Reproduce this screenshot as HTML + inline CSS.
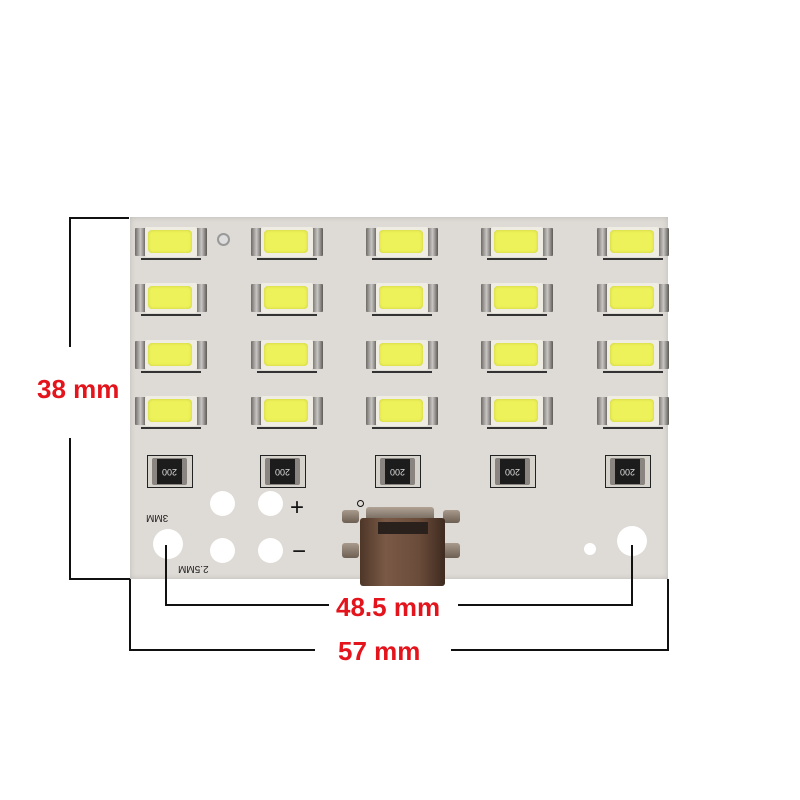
<!DOCTYPE html>
<html><head><meta charset="utf-8"><style>
body{margin:0;width:800px;height:800px;background:#fff;position:relative;overflow:hidden;font-family:"Liberation Sans",sans-serif}
.a{position:absolute}
.ln{position:absolute;background:#111}
.board{left:130px;top:217px;width:538px;height:362px;background:#dedad5;box-shadow:inset 0 0 6px rgba(0,0,0,.15)}
.led{position:absolute;width:72px;height:30px}
.led .cap{position:absolute;top:1px;width:11px;height:28px;background:linear-gradient(90deg,#6e6a66,#c9c7c4,#5d5955);border-radius:1px}
.led .body{position:absolute;left:10px;top:0;width:52px;height:30px;background:#efece4;border-radius:2px}
.led .y{position:absolute;left:13px;top:3px;width:44px;height:23px;background:#eef25a;border-radius:4px;box-shadow:inset 0 0 3px #c9cc40}
.led .sh{position:absolute;left:6px;top:31px;width:60px;height:2px;background:#333}
.res{position:absolute;width:46px;height:33px;border:1.5px solid #222;box-sizing:border-box;background:#d6d2cc}
.res .r{position:absolute;left:4px;top:2px;width:35px;height:27px;background:#8a8580;border-radius:2px}
.res .r i{position:absolute;left:5px;top:1px;width:25px;height:25px;background:#1c1c1c;color:#ddd;font-style:normal;font-size:9px;text-align:center;line-height:25px;transform:rotate(180deg)}
.hole{position:absolute;background:#fff;border-radius:50%}
.lab{position:absolute;color:#e3141c;font-weight:bold;font-size:26px;line-height:1;white-space:nowrap}
.tab{position:absolute;background:linear-gradient(#a89a8c,#6d5f52);border-radius:3px}
</style></head><body>
<div class="a board"></div>
<div id="leds"></div>
<div class="res" style="left:147px;top:455px"><div class="r"><i>200</i></div></div>
<div class="res" style="left:260px;top:455px"><div class="r"><i>200</i></div></div>
<div class="res" style="left:375px;top:455px"><div class="r"><i>200</i></div></div>
<div class="res" style="left:490px;top:455px"><div class="r"><i>200</i></div></div>
<div class="res" style="left:605px;top:455px"><div class="r"><i>200</i></div></div>
<div class="hole" style="left:210px;top:491px;width:25px;height:25px"></div>
<div class="hole" style="left:258px;top:491px;width:25px;height:25px"></div>
<div class="hole" style="left:153px;top:529px;width:30px;height:30px"></div>
<div class="hole" style="left:210px;top:538px;width:25px;height:25px"></div>
<div class="hole" style="left:258px;top:538px;width:25px;height:25px"></div>
<div class="hole" style="left:617px;top:526px;width:30px;height:30px"></div>
<div class="hole" style="left:584px;top:543px;width:12px;height:12px"></div>
<div class="hole" style="left:217px;top:233px;width:9px;height:9px;border:2px solid #999;background:#ddd"></div>
<div class="a" style="left:290px;top:494px;font-size:24px;color:#111">+</div>
<div class="a" style="left:292px;top:538px;font-size:24px;color:#111">−</div>
<div class="a" style="left:146px;top:512px;font-size:10px;color:#222;transform:rotate(180deg)">3MM</div>
<div class="a" style="left:178px;top:563px;font-size:10px;color:#222;transform:rotate(180deg)">2.5MM</div>
<!-- usb -->
<div class="tab" style="left:342px;top:510px;width:17px;height:13px"></div>
<div class="tab" style="left:342px;top:543px;width:17px;height:15px"></div>
<div class="tab" style="left:443px;top:510px;width:17px;height:13px"></div>
<div class="tab" style="left:443px;top:543px;width:17px;height:15px"></div>
<div class="tab" style="left:366px;top:507px;width:68px;height:14px;background:linear-gradient(#b0a396,#6f6257)"></div>
<div class="a" style="left:360px;top:518px;width:85px;height:68px;background:linear-gradient(90deg,#4e3628,#7a5a46 30%,#6a4b39 70%,#3e2a20);border-radius:3px"></div>
<div class="a" style="left:378px;top:522px;width:50px;height:12px;background:#2a211c"></div>
<div class="a" style="left:357px;top:500px;width:5px;height:5px;border-radius:50%;border:1.5px solid #111"></div>
<!-- dims -->
<div class="ln" style="left:69px;top:217px;width:60px;height:2px"></div>
<div class="ln" style="left:69px;top:217px;width:2px;height:130px"></div>
<div class="ln" style="left:69px;top:438px;width:2px;height:141px"></div>
<div class="ln" style="left:69px;top:578px;width:61px;height:2px"></div>
<div class="lab" style="left:37px;top:376px">38 mm</div>
<div class="ln" style="left:165px;top:545px;width:2px;height:60px"></div>
<div class="ln" style="left:165px;top:604px;width:164px;height:2px"></div>
<div class="lab" style="left:336px;top:594px">48.5 mm</div>
<div class="ln" style="left:458px;top:604px;width:175px;height:2px"></div>
<div class="ln" style="left:631px;top:545px;width:2px;height:61px"></div>
<div class="ln" style="left:129px;top:579px;width:2px;height:72px"></div>
<div class="ln" style="left:129px;top:649px;width:186px;height:2px"></div>
<div class="lab" style="left:338px;top:638px">57 mm</div>
<div class="ln" style="left:451px;top:649px;width:218px;height:2px"></div>
<div class="ln" style="left:667px;top:579px;width:2px;height:72px"></div>
<script>
var xs=[135,251,366,481,597],ys=[227,283,340,396],h='';
xs.forEach(function(x){ys.forEach(function(y){h+='<div class="led" style="left:'+x+'px;top:'+y+'px"><div class="sh"></div><div class="cap" style="left:0"></div><div class="cap" style="left:61px"></div><div class="body"></div><div class="y"></div></div>';});});
document.getElementById('leds').innerHTML=h;
</script>
</body></html>
